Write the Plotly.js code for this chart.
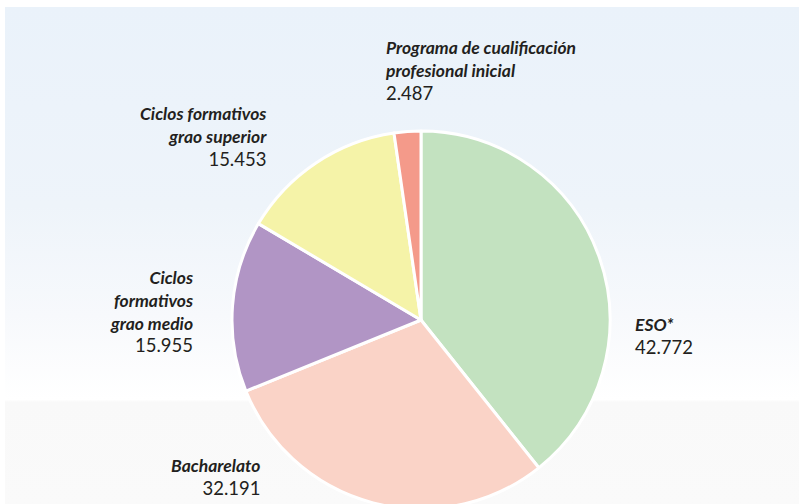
<!DOCTYPE html>
<html>
<head>
<meta charset="utf-8">
<script src="https://cdn.plot.ly/plotly-3.0.1.min.js"></script>
<style>
html,body{margin:0;padding:0;background:#ffffff;overflow:hidden;width:799px;height:504px;}
#bg{position:absolute;left:5px;top:7px;width:794px;height:497px;
background:linear-gradient(to bottom,#EAF2FA 0%,#EEF4FA 40%,#F7F9FC 62%,#FFFFFF 79%,#F9F9F9 79.5%,#FAFAFA 100%);}
#chart{position:absolute;left:0;top:0;width:799px;height:520px;}
</style>
</head>
<body>
<div id="bg"></div>
<div id="chart"></div>
<script>
var categories = ["ESO*", "Bacharelato", "Ciclos formativos grao medio", "Ciclos formativos grao superior", "Programa de cualificación profesional inicial"];
var labelLines = [["ESO*"], ["Bacharelato"], ["Ciclos", "formativos", "grao medio"], ["Ciclos formativos", "grao superior"], ["Programa de cualificación", "profesional inicial"]];
var values = [42.772, 32.191, 15.955, 15.453, 2.487];
var valueText = ["42.772", "32.191", "15.955", "15.453", "2.487"];
var colors = ["#C3E2C0", "#FAD3C7", "#B195C5", "#F5F3A8", "#F49A8A"];

var W = 799, H = 520;
var cx = 421, cy = 320, r = 189;

var trace = {
  type: "pie",
  values: values,
  labels: categories,
  sort: false,
  direction: "clockwise",
  rotation: 0,
  textinfo: "none",
  hoverinfo: "label+value",
  marker: {colors: colors, line: {color: "#ffffff", width: 3}},
  domain: {x: [(cx - r) / W, (cx + r) / W], y: [1 - (cy + r) / H, 1 - (cy - r) / H]},
  showlegend: false
};

// label anchor positions in pixels (top of text block) and alignment
var labelPos = [
  {x: 633, y: 312, align: "left"},
  {x: 262, y: 453, align: "right"},
  {x: 195, y: 265, align: "right"},
  {x: 269, y: 101, align: "right"},
  {x: 383, y: 35, align: "left"}
];

var annotations = labelPos.map(function (p, i) {
  var txt = labelLines[i].map(function (l) { return "<b><i>" + l + "</i></b>"; }).join("<br>") +
    "<br><span style='font-size:18.5px'>" + valueText[i] + "</span>";
  return {
    xref: "paper", yref: "paper",
    x: p.x / W, y: 1 - p.y / H,
    xanchor: p.align === "left" ? "left" : "right",
    yanchor: "top",
    align: p.align,
    showarrow: false,
    text: txt,
    font: {family: "Lato, 'Open Sans', sans-serif", size: 17.5, color: "#231F20"}
  };
});

var layout = {
  width: W, height: H,
  margin: {l: 0, r: 0, t: 0, b: 0},
  paper_bgcolor: "rgba(0,0,0,0)",
  plot_bgcolor: "rgba(0,0,0,0)",
  annotations: annotations,
  showlegend: false
};

Plotly.newPlot("chart", [trace], layout, {displayModeBar: false, staticPlot: true});
</script>
</body>
</html>
